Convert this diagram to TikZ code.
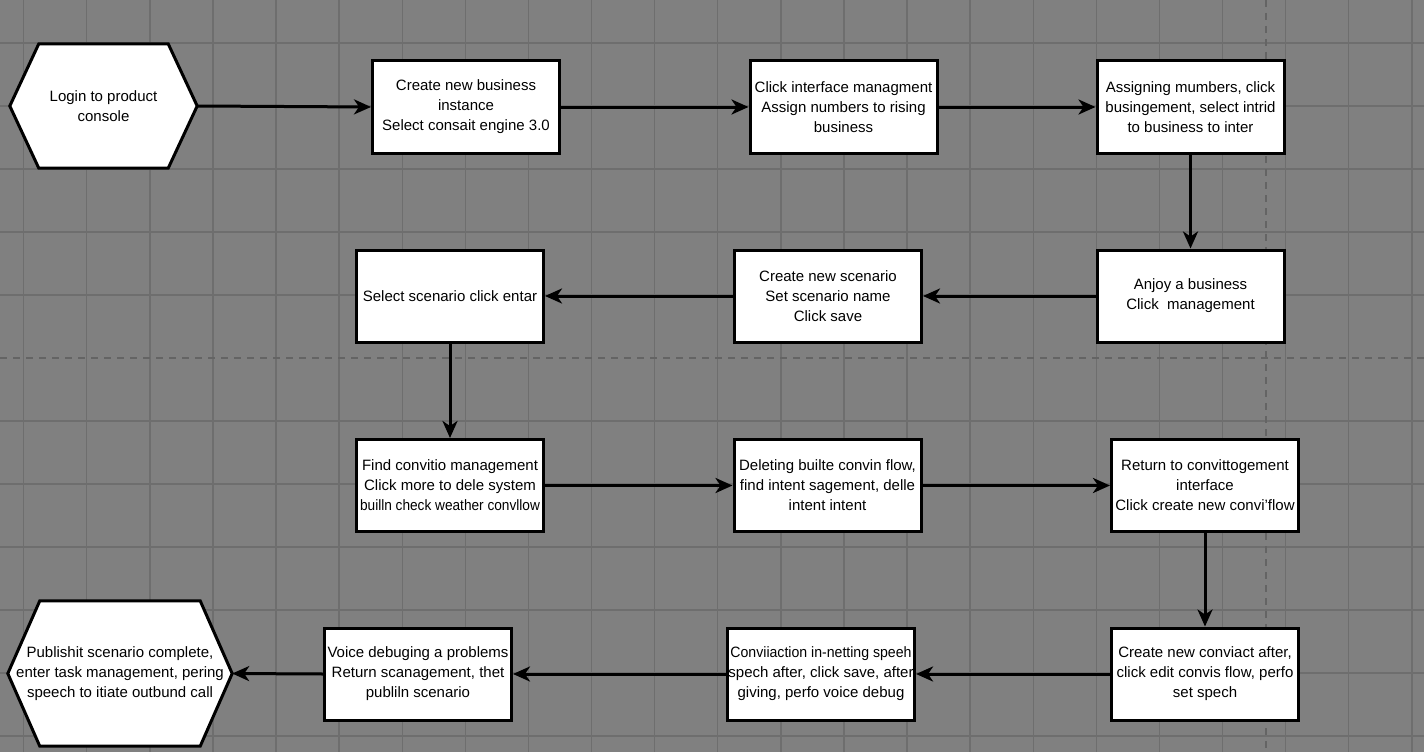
\documentclass[tikz,border=0pt]{standalone}
\usepackage{fontspec}
\usepackage{graphicx}
\setmainfont{Liberation Sans}
\usetikzlibrary{arrows.meta,backgrounds}
\definecolor{bggray}{RGB}{128,128,128}
\definecolor{gridgray}{RGB}{110,110,110}
\definecolor{dashgray}{RGB}{100,100,100}
\newcommand{\narrowline}[2]{\scalebox{#1}[1]{#2}}
\begin{document}
\begin{tikzpicture}[x=1pt,y=-1pt,
  txt/.style={font=\fontsize{15}{20}\selectfont, align=center},
  stepbox/.style={txt, draw=black, line width=3pt, fill=white, minimum width=187pt, minimum height=92pt, inner sep=1pt},
  hexnode/.style={txt, inner sep=0pt},
  hexline/.style={draw=black, fill=white, line width=3pt, line join=miter},
  conn/.style={line width=3pt, -{Stealth[length=17pt,width=15pt,inset=5pt]}},
  gridline/.style={draw=gridgray, line width=1.4pt},
  sepline/.style={draw=dashgray, line width=1.4pt, dash pattern=on 7pt off 6pt}]
\useasboundingbox (0,0) rectangle (1424,752);
\begin{scope}[on background layer]
  \fill[bggray] (0,0) rectangle (1424,752);
  \foreach \k in {0,...,22} {\draw[gridline] ({23.6+63.1*\k},0) -- ({23.6+63.1*\k},752);}
  \foreach \k in {0,1,2,3,4,6,7,8,9,10,11} {\draw[gridline] (0,{43+63*\k}) -- (1424,{43+63*\k});}
  \draw[sepline] (0,358) -- (1424,358);
  \draw[sepline] (1266,0) -- (1266,752);
\end{scope}

% row 1
\node[hexnode, minimum width=187pt, minimum height=124pt] (h1) at (103.5,106) {Login to product\\console};
\node[stepbox] (b2) at (466,107) {Create new business\\instance\\Select consait engine 3.0};
\node[stepbox] (b3) at (843.5,107) {Click interface managment\\Assign numbers to rising\\business};
\node[stepbox] (b4) at (1190.5,107) {Assigning mumbers, click\\busingement, select intrid\\to business to inter};
% row 2
\node[stepbox] (b5) at (1190.5,296) {Anjoy a business\\Click\ \ management};
\node[stepbox] (b6) at (828,296) {Create new scenario\\Set scenario name\\Click save};
\node[stepbox] (b7) at (450,296) {Select scenario click entar};
% row 3
\node[stepbox] (b8) at (450,485.5) {Find convitio management\\Click more to dele system\\\narrowline{0.91}{builln check weather convllow}};
\node[stepbox] (b9) at (827.5,485.5) {Deleting builte convin flow,\\find intent sagement, delle\\intent intent};
\node[stepbox] (b10) at (1205,485.5) {Return to convittogement\\interface\\Click create new convi'flow};
% row 4
\node[stepbox] (b11) at (1205,674) {Create new conviact after,\\click edit convis flow, perfo\\set spech};
\node[stepbox] (b12) at (821,674) {\narrowline{0.94}{Conviiaction in-netting speeh}\\spech after, click save, after\\giving, perfo voice debug};
\node[stepbox] (b13) at (418,674) {Voice debuging a problems\\Return scanagement, thet\\publiln scenario};
\node[hexnode, minimum width=224pt, minimum height=145pt] (h2) at (120,673.5) {Publishit scenario complete,\\enter task management, pering\\speech to itiate outbund call};

\begin{scope}[on background layer]
  \path[hexline] (h1.west) -- ([xshift=29pt]h1.north west) -- ([xshift=-29pt]h1.north east) -- (h1.east) -- ([xshift=-29pt]h1.south east) -- ([xshift=29pt]h1.south west) -- cycle;
  \path[hexline] (h2.west) -- ([xshift=32pt]h2.north west) -- ([xshift=-32pt]h2.north east) -- (h2.east) -- ([xshift=-32pt]h2.south east) -- ([xshift=32pt]h2.south west) -- cycle;
\end{scope}

\draw[conn] (h1.east) -- (b2.west);
\draw[conn] (b2.east) -- (b3.west);
\draw[conn] (b3.east) -- (b4.west);
\draw[conn] (b4.south) -- (b5.north);
\draw[conn] (b5.west) -- (b6.east);
\draw[conn] (b6.west) -- (b7.east);
\draw[conn] (b7.south) -- (b8.north);
\draw[conn] (b8.east) -- (b9.west);
\draw[conn] (b9.east) -- (b10.west);
\draw[conn] (b10.south) -- (b11.north);
\draw[conn] (b11.west) -- (b12.east);
\draw[conn] (b12.west) -- (b13.east);
\draw[conn] (b13.west) -- (h2.east);
\end{tikzpicture}
\end{document}
